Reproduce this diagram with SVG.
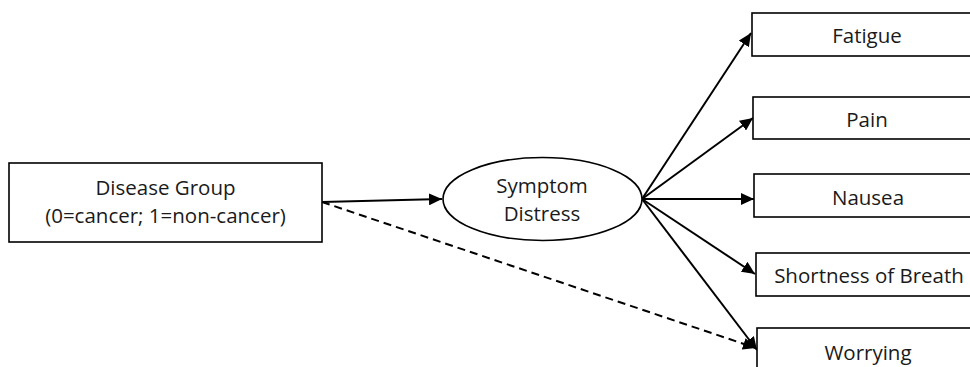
<svg xmlns="http://www.w3.org/2000/svg" width="970" height="367" viewBox="0 0 970 367">
  <style>
    .box { fill: #ffffff; stroke: #000000; stroke-width: 1.6; }
    .lbl { font-family: "Open Sans", "Liberation Sans", sans-serif; font-size: 20.5px; fill: #1a1a1a; text-anchor: middle; }
    .edge { stroke: #000000; stroke-width: 2; fill: none; }
    .dash { stroke-dasharray: 8 5; }
  </style>
  <defs>
    <marker id="arrow" markerUnits="userSpaceOnUse" markerWidth="14" markerHeight="12" refX="13" refY="6" orient="auto">
      <path d="M0,0 L13,6 L0,12 Z" fill="#000000"/>
    </marker>
  </defs>
  <rect width="970" height="367" fill="#ffffff"/>

  <g id="connectors">
    <line class="edge" x1="322" y1="202" x2="442" y2="199" marker-end="url(#arrow)"/>
    <line class="edge dash" x1="322" y1="202" x2="756" y2="348" marker-end="url(#arrow)"/>
    <line class="edge" x1="642" y1="199" x2="751" y2="33" marker-end="url(#arrow)"/>
    <line class="edge" x1="642" y1="199" x2="753" y2="118" marker-end="url(#arrow)"/>
    <line class="edge" x1="642" y1="199" x2="754" y2="199" marker-end="url(#arrow)"/>
    <line class="edge" x1="642" y1="199" x2="755" y2="274" marker-end="url(#arrow)"/>
    <line class="edge" x1="642" y1="199" x2="757" y2="350" marker-end="url(#arrow)"/>
  </g>

  <g id="disease-group">
    <rect class="box" x="9" y="163" width="313" height="79"/>
    <text class="lbl" x="165.5" y="195">Disease Group</text>
    <text class="lbl" x="165.5" y="223">(0=cancer; 1=non-cancer)</text>
  </g>

  <g id="symptom-distress">
    <ellipse class="box" cx="542.5" cy="199" rx="99.5" ry="41.5"/>
    <text class="lbl" x="542" y="193">Symptom</text>
    <text class="lbl" x="542" y="221">Distress</text>
  </g>

  <g id="fatigue">
    <rect class="box" x="752" y="13" width="240" height="43"/>
    <text class="lbl" x="867" y="43">Fatigue</text>
  </g>

  <g id="pain">
    <rect class="box" x="753" y="97" width="240" height="42"/>
    <text class="lbl" x="867" y="127">Pain</text>
  </g>

  <g id="nausea">
    <rect class="box" x="754" y="174" width="240" height="43"/>
    <text class="lbl" x="868" y="205">Nausea</text>
  </g>

  <g id="shortness-of-breath">
    <rect class="box" x="756" y="253" width="240" height="43"/>
    <text class="lbl" x="869" y="283">Shortness of Breath</text>
  </g>

  <g id="worrying">
    <rect class="box" x="757" y="328" width="240" height="60"/>
    <text class="lbl" x="868" y="360">Worrying</text>
  </g>
</svg>
